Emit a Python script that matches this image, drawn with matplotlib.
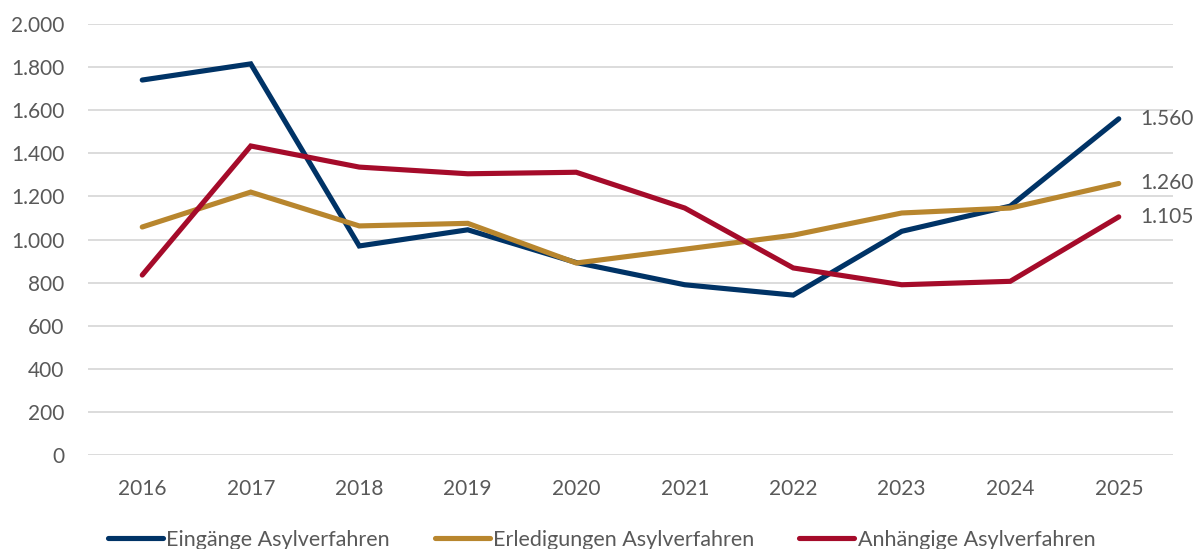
import numpy as np
import matplotlib.pyplot as plt
from matplotlib.ticker import FuncFormatter

plt.rcParams['font.family'] = ['Lato', 'DejaVu Sans']

years = ['2016', '2017', '2018', '2019', '2020', '2021', '2022', '2023', '2024', '2025']
eingaenge = [1740, 1815, 970, 1045, 893, 790, 742, 1038, 1155, 1560]
erledigungen = [1058, 1220, 1063, 1075, 891, 955, 1020, 1123, 1146, 1260]
anhaengig = [835, 1434, 1336, 1305, 1312, 1146, 868, 790, 806, 1105]

names = ['Eingänge Asylverfahren', 'Erledigungen Asylverfahren', 'Anhängige Asylverfahren']
colors = ['#003366', '#B8862E', '#A50B2A']
series = [eingaenge, erledigungen, anhaengig]

txt = '#595959'

fig = plt.figure(figsize=(12.03, 5.49), dpi=100)
ax = fig.add_axes([88/1203, 1-455/549, (1173-88)/1203, (455-24)/549])

x = np.arange(len(years))
for vals, name, c in zip(series, names, colors):
    ax.plot(x, vals, color=c, lw=3.7, label=name, solid_capstyle='round', solid_joinstyle='miter')
    ax.text(x[-1] + 0.2, vals[-1], f'{vals[-1]:,}'.replace(',', '.'),
            va='center', ha='left', fontsize=15, color=txt)

ax.set_xlim(-0.5, 9.5)
ax.set_ylim(0, 2000)
ax.set_yticks(range(0, 2001, 200))
ax.yaxis.set_major_formatter(FuncFormatter(lambda v, p: f'{int(v):,}'.replace(',', '.')))
ax.set_xticks(x)
ax.set_xticklabels(years)
ax.grid(axis='y', color='#d9d9d9', lw=1.3)
ax.set_axisbelow(True)
for s in ax.spines.values():
    s.set_visible(False)
ax.tick_params(axis='y', length=0, pad=17, labelsize=15, labelcolor=txt)
ax.tick_params(axis='x', length=0, pad=17, labelsize=15, labelcolor=txt)

fig.legend(loc='center', bbox_to_anchor=(0.5, 1-540/549), ncol=3, frameon=False,
           fontsize=15.5, labelcolor=txt, handlelength=2.55, handletextpad=0.15,
           columnspacing=2.1)

fig.savefig('out.png', dpi=100)
